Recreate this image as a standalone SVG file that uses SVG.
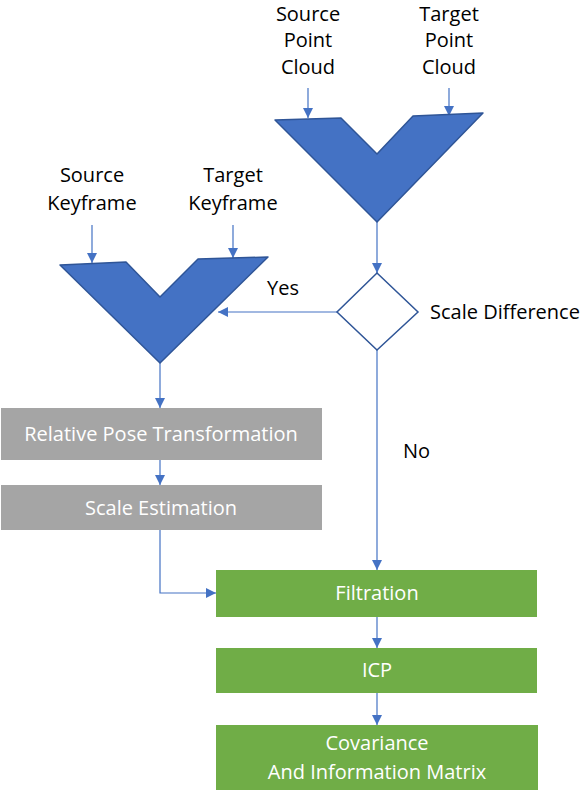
<svg xmlns="http://www.w3.org/2000/svg" width="584" height="790" viewBox="0 0 584 790">
<defs>
<marker id="ah" viewBox="0 0 10 10" refX="10" refY="5" markerWidth="10" markerHeight="10" markerUnits="userSpaceOnUse" orient="auto">
<path d="M0,0 L10,5 L0,10 Z" fill="#4472C4"/>
</marker>
<style>
text{font-family:"Open Sans","Liberation Sans",sans-serif;font-size:20px;}
.wt{fill:#fff;text-anchor:middle;}
.c{text-anchor:middle;}
.v{fill:#4472C4;stroke:#2F5597;stroke-width:1.5;stroke-linejoin:round;}
.gray{fill:#A5A5A5;}
.green{fill:#70AD47;}
.con{fill:none;stroke:#4472C4;stroke-width:1.2;}
</style>
</defs>
<rect width="584" height="790" fill="#fff"/>
<g id="connectors">
<path class="con" d="M308,88 V118" marker-end="url(#ah)"/>
<path class="con" d="M449,88 V116" marker-end="url(#ah)"/>
<path class="con" d="M92,225 V263" marker-end="url(#ah)"/>
<path class="con" d="M233,225 V258" marker-end="url(#ah)"/>
<path class="con" d="M377,222 V273" marker-end="url(#ah)"/>
<path class="con" d="M337,312 H218" marker-end="url(#ah)"/>
<path class="con" d="M377,350 V570" marker-end="url(#ah)"/>
<path class="con" d="M160,363 V408" marker-end="url(#ah)"/>
<path class="con" d="M160,460 V485" marker-end="url(#ah)"/>
<path class="con" d="M160,530 V593 H216" marker-end="url(#ah)"/>
<path class="con" d="M377,617 V648" marker-end="url(#ah)"/>
<path class="con" d="M377,693 V725" marker-end="url(#ah)"/>
</g>
<g id="pc-labels">
<text class="c" x="308" y="21">Source</text>
<text class="c" x="308" y="47">Point</text>
<text class="c" x="308" y="74">Cloud</text>
<text class="c" x="449" y="21">Target</text>
<text class="c" x="449" y="47">Point</text>
<text class="c" x="449" y="74">Cloud</text>
</g>
<g id="pc-merge">
<polygon class="v" points="275,120 341,118 377,154 413,116 483,113 377,222"/>
</g>
<g id="kf-labels">
<text class="c" x="92" y="182">Source</text>
<text class="c" x="92" y="210">Keyframe</text>
<text class="c" x="233" y="182">Target</text>
<text class="c" x="233" y="210">Keyframe</text>
</g>
<g id="kf-merge">
<polygon class="v" points="60,265 126,262 160,297 198,259 268,257 160,363"/>
</g>
<g id="scale-diff">
<polygon points="377,273 418,312 377,350 337,312" fill="#fff" stroke="#2F5597" stroke-width="1.5"/>
<text x="430" y="319">Scale Difference</text>
</g>
<g id="edge-labels">
<text x="267" y="295">Yes</text>
<text x="403" y="458">No</text>
</g>
<g id="relative-pose">
<rect class="gray" x="1" y="408" width="321" height="52"/>
<text class="wt" x="161" y="441">Relative Pose Transformation</text>
</g>
<g id="scale-est">
<rect class="gray" x="1" y="485" width="321" height="45"/>
<text class="wt" x="161" y="515">Scale Estimation</text>
</g>
<g id="filtration">
<rect class="green" x="216" y="570" width="321" height="47"/>
<text class="wt" x="377" y="600">Filtration</text>
</g>
<g id="icp">
<rect class="green" x="216" y="648" width="321" height="45"/>
<text class="wt" x="377" y="677">ICP</text>
</g>
<g id="covariance">
<rect class="green" x="216" y="725" width="322" height="65"/>
<text class="wt" x="377" y="750">Covariance</text>
<text class="wt" x="377" y="779">And Information Matrix</text>
</g>
</svg>
